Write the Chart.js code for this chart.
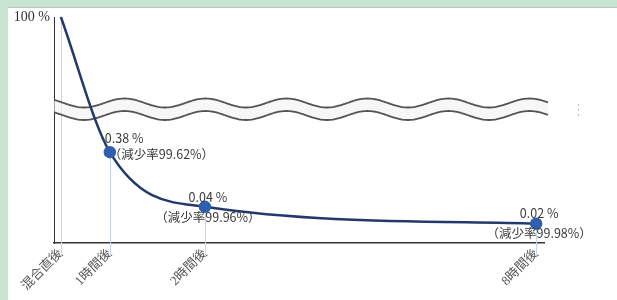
<!DOCTYPE html>
<html lang="ja">
<head>
<meta charset="utf-8">
<script src="https://cdn.jsdelivr.net/npm/chart.js@4"></script>
<style>
  html, body { margin: 0; padding: 0; }
  body { width: 617px; height: 300px; background: #c9e5d1; position: relative; overflow: hidden; }
  #panel { position: absolute; left: 8px; top: 7px; right: 0; bottom: 0; background: #fff; border-top: 1px solid #b8c8bc; }
  #chart { position: absolute; left: 0; top: 0; }
</style>
</head>
<body>
<div id="panel"></div>
<canvas id="chart" width="617" height="300"></canvas>
<script>
// time points on the x axis
const categories = ['混合直後', '1時間後', '2時間後', '8時間後'];
// the original axis is schematic, not to scale: where each time point sits on it
const axisSlots = [0, 1, 2.94, 9.7];
// remaining amount (%)
const remaining = [100, 0.38, 0.04, 0.02];
// reduction rate (%), none for the starting point
const reduction = [null, 99.62, 99.96, 99.98];
// the only labelled y value
const yTicks = [100];

// drop lines and the broken-axis marks, drawn under the curve
const decor = {
    id: 'decor',
    beforeDatasetsDraw(chart) {
        const { ctx, chartArea: a } = chart;
        const pts = chart.getDatasetMeta(0).data;
        ctx.save();

        // light blue drop lines from each point down past the axis
        ctx.strokeStyle = '#c5d5ec';
        ctx.lineWidth = 1;
        pts.forEach(p => {
            const px = Math.round(p.x) + 0.5;
            ctx.beginPath();
            ctx.moveTo(px, p.y);
            ctx.lineTo(px, a.bottom + 13);
            ctx.stroke();
        });

        // wavy break across the plot
        const x0 = a.left, x1 = a.left + 494;
        const wave = (xx, off) => a.top + 86 + off + 4.5 * Math.cos(2 * Math.PI * (xx - 84) / 81);
        ctx.beginPath();
        for (let xx = x0; xx <= x1; xx++) ctx.lineTo(xx, wave(xx, 0));
        for (let xx = x1; xx >= x0; xx--) ctx.lineTo(xx, wave(xx, 12.5));
        ctx.closePath();
        ctx.fillStyle = 'rgba(242,242,242,0.6)';
        ctx.fill();

        ctx.strokeStyle = '#555';
        ctx.lineWidth = 1.8;
        [0, 12.5].forEach(off => {
            ctx.beginPath();
            for (let xx = x0; xx <= x1; xx++) ctx.lineTo(xx, wave(xx, off));
            ctx.stroke();
        });

        // small faint mark at the right
        ctx.strokeStyle = '#bbb';
        ctx.lineWidth = 1;
        ctx.setLineDash([2, 3]);
        ctx.beginPath();
        ctx.moveTo(578.5, a.top + 87);
        ctx.lineTo(578.5, a.top + 102);
        ctx.stroke();
        ctx.restore();
    },
    afterDatasetsDraw(chart) {
        const { ctx } = chart;
        const pts = chart.getDatasetMeta(0).data;
        ctx.save();
        ctx.font = '12.5px "Noto Sans CJK JP"';
        ctx.fillStyle = '#3a3a3a';
        ctx.textBaseline = 'middle';
        pts.forEach((p, i) => {
            if (reduction[i] == null) return;
            const v = remaining[i].toFixed(2) + ' %';
            const r = '（減少率' + reduction[i].toFixed(2) + '%）';
            if (i === 1) {
                ctx.textAlign = 'left';
                ctx.fillText(v, p.x - 5, p.y - 14);
                ctx.fillText(r, p.x - 1, p.y + 2);
            } else {
                ctx.textAlign = 'center';
                ctx.fillText(v, p.x + 3, p.y - 10);
                ctx.fillText(r, p.x + 3, p.y + 10);
            }
        });
        ctx.restore();
    }
};

const pointColors = categories.map((c, i) => i === 0 ? 'rgba(0,0,0,0)' : '#2f5fae');

new Chart(document.getElementById('chart'), {
    type: 'line',
    data: {
        datasets: [{
            data: axisSlots.map((s, i) => ({ x: s, y: remaining[i] })),
            borderColor: '#24396b',
            borderWidth: 2.5,
            pointBackgroundColor: pointColors,
            pointBorderColor: pointColors,
            pointRadius: categories.map((c, i) => i === 0 ? 0 : 5),
            cubicInterpolationMode: 'monotone',
            clip: false
        }]
    },
    plugins: [decor],
    options: {
        responsive: false,
        animation: false,
        devicePixelRatio: 1,
        layout: { padding: { left: 8, top: 17, right: 73, bottom: 0 } },
        plugins: {
            legend: { display: false },
            tooltip: { enabled: false }
        },
        scales: {
            x: {
                type: 'linear',
                min: -0.14,
                max: 9.86,
                afterBuildTicks: s => { s.ticks = axisSlots.map(v => ({ value: v })); },
                afterFit: s => { s.height = 57; },
                grid: { display: false, drawTicks: false },
                border: { color: '#333', width: 1.5 },
                ticks: {
                    autoSkip: false,
                    minRotation: 45,
                    maxRotation: 45,
                    padding: 3,
                    color: '#555',
                    font: { family: '"Liberation Serif", "Noto Sans CJK JP"', size: 13 },
                    callback: (v, i) => categories[i]
                }
            },
            y: {
                type: 'logarithmic',
                min: 0.009,
                max: 100,
                afterBuildTicks: s => { s.ticks = yTicks.map(v => ({ value: v })); },
                afterFit: s => { s.width = 46; },
                grid: { display: false, drawTicks: false },
                border: { color: '#333', width: 1 },
                ticks: {
                    padding: 4,
                    color: '#333',
                    font: { family: '"Liberation Serif"', size: 14 },
                    callback: v => v + ' %'
                }
            }
        }
    }
});
</script>
</body>
</html>
